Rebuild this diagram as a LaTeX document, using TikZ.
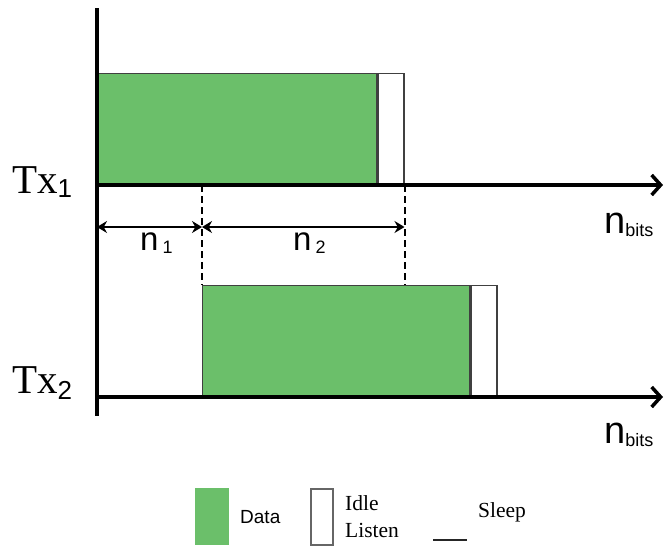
\documentclass[tikz,border=0pt]{standalone}
\usepackage{fontspec}
\setmainfont{Liberation Serif}
\setsansfont{Liberation Sans}
\usetikzlibrary{positioning,arrows.meta}
\definecolor{datagreen}{RGB}{107,191,106}

\begin{document}
\begin{tikzpicture}[x=1pt,y=-1pt,>=Stealth,
	axis/.style={line width=3.5pt,-{Straight Barb[length=9pt,width=20pt]}},
	data box/.style={draw=black!75,line width=1pt,fill=datagreen,inner sep=0pt,minimum height=111pt},
	idle box/.style={draw=black!75,line width=1.5pt,fill=white,inner sep=0pt,minimum width=26pt,minimum height=111pt},
	dim/.style={<->,line width=1.4pt,>={Stealth[length=10pt,width=12pt]}},
	guide/.style={line width=2pt,dash pattern=on 7pt off 4pt},
	lbl/.style={anchor=base west,inner sep=0pt}]
	\useasboundingbox (0,0) rectangle (666,550);

	% slots of the two transmitters
	\node[data box,minimum width=279pt,anchor=south west] (d1) at (97,185) {};
	\node[idle box,anchor=south west] (i1) at (d1.south east) {};
	\node[data box,minimum width=267pt,anchor=south west] (d2) at (202,397) {};
	\node[idle box,anchor=south west] (i2) at (d2.south east) {};

	% axes
	\coordinate (o1) at (97,185);
	\coordinate (o2) at (97,397);
	\coordinate (top) at (97,8);
	\coordinate (bot) at (97,416);
	\draw[line width=4pt] (top) -- (bot);
	\draw[axis] (o1) -- (663,185);
	\draw[axis] (o2) -- (663,397);

	\node[lbl] (tx1) at (12,193) {\fontsize{41}{41}\selectfont Tx\raisebox{-4pt}{\sffamily\fontsize{26}{26}\selectfont 1}};
	\node[lbl] (tx2) at (12,393) {\fontsize{41}{41}\selectfont Tx\raisebox{-6pt}{\sffamily\fontsize{26}{26}\selectfont 2}};
	\node[lbl] (nb1) at (604,233) {\sffamily\fontsize{38}{38}\selectfont n\raisebox{-3pt}{\fontsize{18}{18}\selectfont bits}};
	\node[lbl] (nb2) at (604,443) {\sffamily\fontsize{38}{38}\selectfont n\raisebox{-3pt}{\fontsize{18}{18}\selectfont bits}};

	% offsets n1 and n2
	\coordinate (m0) at (97,227);
	\coordinate (m1) at (d2.north west |- m0);
	\coordinate (m2) at (i1.south east |- m0);
	\draw[guide] (d2.north west |- o1) -- (d2.north west);
	\draw[guide] (i1.south east) -- (i1.south east |- d2.north);
	\draw[dim] (m0) -- (m1);
	\draw[dim] (m1) -- (m2);
	\node[lbl] (n1) at (140,250) {\sffamily\fontsize{33}{33}\selectfont n\hspace{4pt}\raisebox{-3pt}{\fontsize{18}{18}\selectfont 1}};
	\node[lbl] (n2) at (293,250) {\sffamily\fontsize{33}{33}\selectfont n\hspace{4pt}\raisebox{-3pt}{\fontsize{18}{18}\selectfont 2}};

	% legend
	\node[fill=datagreen,minimum width=34pt,minimum height=57pt,inner sep=0pt,anchor=north west] (kd) at (195,488) {};
	\node[lbl] (kdt) at (240,523) {\sffamily\fontsize{19}{19}\selectfont Data};
	\node[draw=black!60,line width=1.5pt,fill=white,minimum width=22pt,minimum height=56pt,inner sep=0pt,anchor=north west] (ki) at (310,488) {};
	\node[lbl] (kit) at (345,510) {\fontsize{21.5}{21.5}\selectfont Idle};
	\node[lbl] (kil) at (345,537) {\fontsize{21.5}{21.5}\selectfont Listen};
	\coordinate (ks0) at (433,540);
	\coordinate (ks1) at (467,540);
	\draw[line width=1.5pt,black!85] (ks0) -- (ks1);
	\node[lbl] (kst) at (478,517) {\fontsize{21.5}{21.5}\selectfont Sleep};
\end{tikzpicture}
\end{document}
